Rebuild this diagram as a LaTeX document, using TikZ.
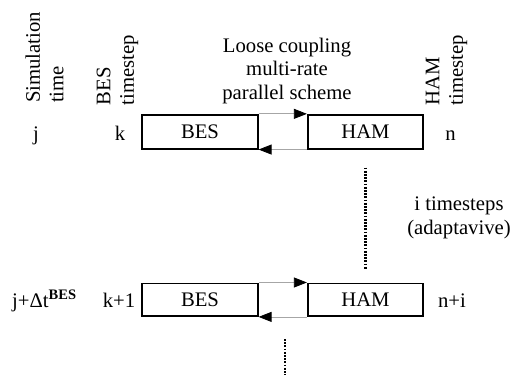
\documentclass[tikz,border=0pt]{standalone}
\usepackage{fontspec}
\setmainfont{Liberation Serif}
\usetikzlibrary{arrows.meta}
\begin{document}
\begin{tikzpicture}[x=1pt,y=1pt,
  every node/.style={font=\fontsize{20.7}{23.5}\selectfont, inner sep=0pt},
  blockbox/.style={draw=black, line width=1.7pt, minimum width=115.5pt, minimum height=34pt},
  conn/.style={draw=black!35, line width=0.8pt, -{Triangle[length=13pt,width=10pt,color=black]}},
  dotline/.style={draw=black, line width=2.2pt, dash pattern=on 1.8pt off 1.4pt},
  lbl/.style={anchor=base}
]
\path[use as bounding box] (0,0) rectangle (510,-374);
% boxes
\node[blockbox] (bes1) at (200,-131.7) {BES};
\node[blockbox] (ham1) at (365.5,-131.7) {HAM};
\node[blockbox, minimum height=32.7pt] (bes2) at (200,-299.7) {BES};
\node[blockbox, minimum height=32.7pt] (ham2) at (365.5,-299.7) {HAM};
% connectors
\draw[conn] (bes1.north east) -- (ham1.north west);
\draw[conn] (ham1.south west) -- (bes1.south east);
\draw[conn] (bes2.north east) -- (ham2.north west);
\draw[conn] (ham2.south west) -- (bes2.south east);
% dotted lines
\draw[dotline] ([yshift=-18pt]ham1.south) -- ([yshift=13pt]ham2.north);
\coordinate (d2a) at (285,-339);
\coordinate (d2b) at (285,-376);
\draw[dotline] (d2a) -- (d2b);
% headers
\node[rotate=90, align=left] (simtime) at (44.5,-57.5) {Simulation\\time};
\node[rotate=90, align=left] (bests) at (117.5,-70) {BES\\timestep};
\node[rotate=90, align=left] (hamts) at (446.5,-70) {HAM\\timestep};
\node[align=center] (loose) at (287,-71) {Loose coupling\\multi-rate\\parallel scheme};
\node[align=center] (itime) at (459,-218) {i timesteps\\(adaptavive)};
% row labels
\node[lbl] (j1) at (36,-140) {j};
\node[lbl] (k1) at (120,-140) {k};
\node[lbl] (n1) at (450.5,-140) {n};
\node[anchor=base west] (j2) at (12,-307) {j+Δt\textsuperscript{\textbf{BES}}};
\node[lbl] (k2) at (119,-307) {k+1};
\node[lbl] (n2) at (452,-307) {n+i};
\end{tikzpicture}
\end{document}
